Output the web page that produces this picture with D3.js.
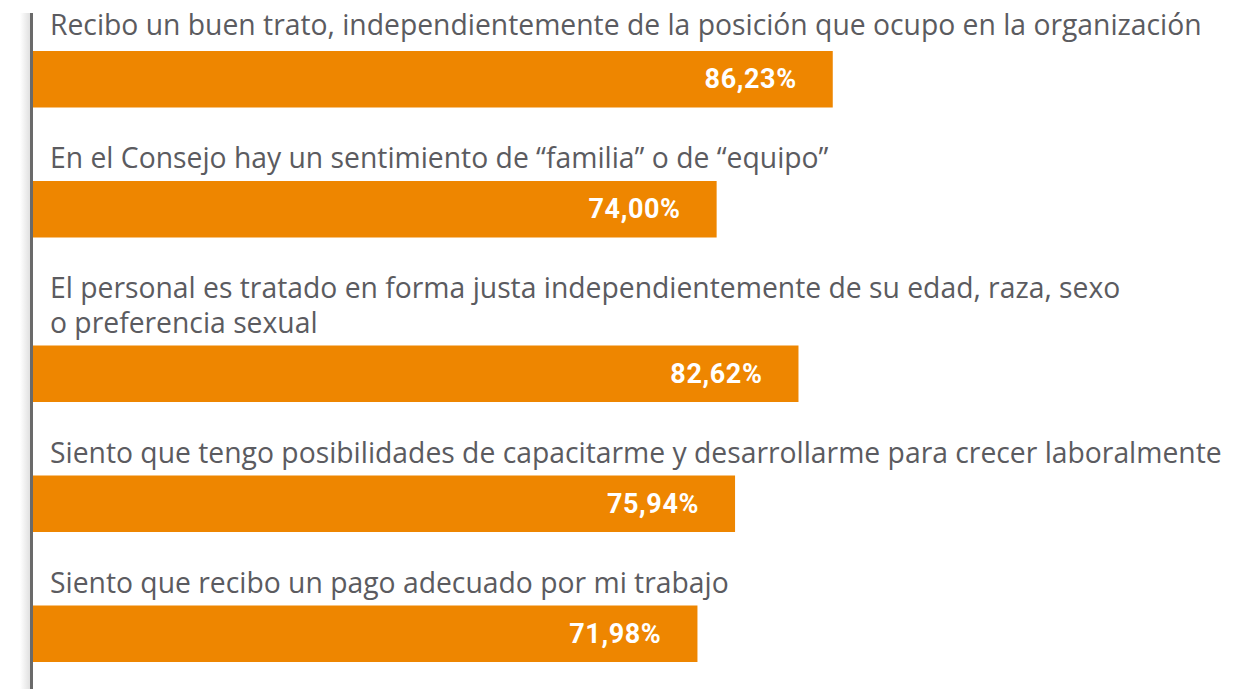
<!DOCTYPE html>
<html>
<head>
<meta charset="utf-8">
<script src="https://cdn.jsdelivr.net/npm/d3@7"></script>
<style>
  html, body { margin: 0; padding: 0; background: #ffffff; }
  svg { display: block; }
</style>
</head>
<body>
<svg id="chart" width="1246" height="689"></svg>
<script>
const categories = [
  "Recibo un buen trato, independientemente de la posición que ocupo en la organización",
  "En el Consejo hay un sentimiento de “familia” o de “equipo”",
  "El personal es tratado en forma justa independientemente de su edad, raza, sexo\no preferencia sexual",
  "Siento que tengo posibilidades de capacitarme y desarrollarme para crecer laboralmente",
  "Siento que recibo un pago adecuado por mi trabajo"
];
const values = [86.23, 74.00, 82.62, 75.94, 71.98];
const valueLabels = ["86,23%", "74,00%", "82,62%", "75,94%", "71,98%"];

const W = 1246, H = 689;
const axisX = 33;
const lineH = 34.5, labelPad = 16.5, barH = 56.5, rowGap = 22.5;

const svg = d3.select("#chart");

const x = d3.scaleLinear().domain([2, 100]).range([axisX, 963.5]);

// row layout computed from number of label lines
const rows = [];
let yCursor = 0;
categories.forEach((c, i) => {
  const lines = c.split("\n");
  const barTop = yCursor + labelPad + lines.length * lineH;
  rows.push({ label: c, lines, value: values[i], vlabel: valueLabels[i], barTop });
  yCursor = barTop + barH + rowGap;
});

// subtle shadow left of axis
const defs = svg.append("defs");
const grad = defs.append("linearGradient").attr("id", "shadow").attr("x1", "0").attr("x2", "1");
grad.append("stop").attr("offset", "0").attr("stop-color", "#000").attr("stop-opacity", 0);
grad.append("stop").attr("offset", "1").attr("stop-color", "#000").attr("stop-opacity", 0.12);
svg.append("rect").attr("x", 20).attr("y", 13).attr("width", 10).attr("height", H - 13)
  .attr("fill", "url(#shadow)");

// bars
svg.selectAll("rect.bar").data(rows).join("rect")
  .attr("class", "bar")
  .attr("x", axisX)
  .attr("y", d => d.barTop)
  .attr("width", d => x(d.value) - axisX)
  .attr("height", barH)
  .attr("fill", "#ee8600");

// value labels
svg.selectAll("text.val").data(rows).join("text")
  .attr("class", "val")
  .attr("x", d => x(d.value) - 36)
  .attr("y", d => d.barTop + barH / 2)
  .attr("dy", "0.34em")
  .attr("text-anchor", "end")
  .attr("fill", "#ffffff")
  .attr("font-family", "Roboto, 'Noto Sans', sans-serif")
  .attr("font-weight", 700)
  .attr("font-size", 27)
  .attr("letter-spacing", 0.6)
  .text(d => d.vlabel);

// category labels
const lab = svg.selectAll("text.cat").data(rows).join("text")
  .attr("class", "cat")
  .attr("fill", "#5b5b60")
  .attr("font-family", "'Open Sans', 'Noto Sans', sans-serif")
  .attr("font-size", 28.3)
  .attr("letter-spacing", 0);
lab.selectAll("tspan").data(d => d.lines.map((t, k) => ({ t, k, n: d.lines.length, top: d.barTop, first: d === rows[0] })))
  .join("tspan")
  .attr("x", 50)
  .attr("y", d => d.top - (d.first ? 16 : 13) - (d.n - 1 - d.k) * lineH)
  .text(d => d.t);

// axis line
svg.append("line")
  .attr("x1", 31.5).attr("x2", 31.5)
  .attr("y1", 13).attr("y2", H)
  .attr("stroke", "#6a6a6a")
  .attr("stroke-width", 3);
</script>
</body>
</html>
